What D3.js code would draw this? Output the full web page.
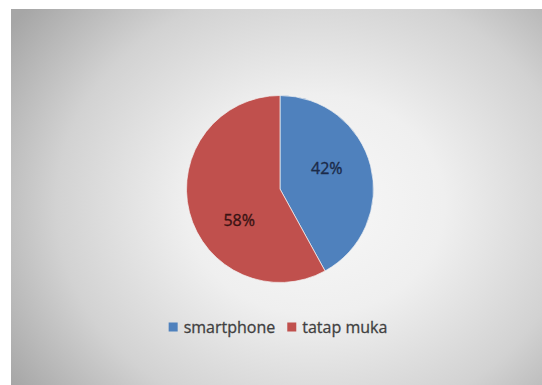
<!DOCTYPE html>
<html>
<head>
<meta charset="utf-8">
<script src="https://cdn.jsdelivr.net/npm/d3@7"></script>
<style>
  body { margin: 0; background: #fff; }
  svg { display: block; }
  .lbl { font-family: "Open Sans", sans-serif; font-size: 16px; stroke-width: 0.35px; }
  .leg { font-family: "Open Sans", sans-serif; font-size: 16px; fill: #3f3f3f; stroke: #3f3f3f; stroke-width: 0.3px; }
</style>
</head>
<body>
<svg id="chart" width="542" height="385"></svg>
<script>
// chart data
var categories = ["smartphone", "tatap muka"];
var values = [42, 58];
var percentLabels = ["42%", "58%"];

var width = 542, height = 385;
var colors = ["#4f81bd", "#c0504d"];
var labelColors = ["#1b2a48", "#3a1313"];
// small nudges so labels sit like the original (best-fit placement)
var labelNudge = [[-3, -8], [9, 19]];

var svg = d3.select("#chart");

// grey vignette background
var defs = svg.append("defs");
var grad = defs.append("radialGradient")
    .attr("id", "bg")
    .attr("gradientUnits", "userSpaceOnUse")
    .attr("cx", 315).attr("cy", 205).attr("r", 370)
    .attr("gradientTransform", "translate(315,205) scale(1,0.85) translate(-315,-205)");
grad.append("stop").attr("offset", "0").attr("stop-color", "#f8f8f8");
grad.append("stop").attr("offset", "0.35").attr("stop-color", "#efefef");
grad.append("stop").attr("offset", "0.7").attr("stop-color", "#d2d2d2");
grad.append("stop").attr("offset", "1").attr("stop-color", "#a6a6a6");

svg.append("rect")
    .attr("x", 11).attr("y", 9)
    .attr("width", width - 11).attr("height", height - 9)
    .attr("fill", "url(#bg)");

// pie
var cx = 280, cy = 189, radius = 93.5;
var pie = d3.pie().sort(null).value(function(d) { return d; });
var arc = d3.arc().innerRadius(0).outerRadius(radius);
var labelArc = d3.arc().innerRadius(radius * 0.55).outerRadius(radius * 0.55);
var arcs = pie(values);

var g = svg.append("g").attr("transform", "translate(" + cx + "," + cy + ")");

g.selectAll("path.slice")
    .data(arcs).enter().append("path")
    .attr("class", "slice")
    .attr("d", arc)
    .attr("fill", function(d, i) { return colors[i]; })
    .attr("stroke", "#f4f4f4")
    .attr("stroke-width", 0.7);

g.selectAll("text.lbl")
    .data(arcs).enter().append("text")
    .attr("class", "lbl")
    .attr("text-anchor", "middle")
    .attr("dy", "0.35em")
    .attr("transform", function(d, i) {
        var c = labelArc.centroid(d);
        return "translate(" + (c[0] + labelNudge[i][0]) + "," + (c[1] + labelNudge[i][1]) + ")";
    })
    .attr("fill", function(d, i) { return labelColors[i]; })
    .attr("stroke", function(d, i) { return labelColors[i]; })
    .text(function(d, i) { return percentLabels[i]; });

// legend, centred under the pie
var legend = svg.append("g");
var sq = 9, gap = 6, itemGap = 12;
var items = legend.selectAll("g.item")
    .data(categories).enter().append("g")
    .attr("class", "item");
items.append("rect")
    .attr("width", sq).attr("height", sq)
    .attr("y", -sq / 2)
    .attr("fill", function(d, i) { return colors[i]; });
items.append("text")
    .attr("class", "leg")
    .attr("x", sq + gap)
    .attr("dy", "0.35em")
    .text(function(d) { return d; });

var x = 0;
items.each(function() {
    var w = this.getBBox().width;
    d3.select(this).attr("transform", "translate(" + x + ",0)");
    x += w + itemGap;
});
var total = x - itemGap;
legend.attr("transform", "translate(" + (278 - total / 2) + ",327)");
</script>
</body>
</html>
